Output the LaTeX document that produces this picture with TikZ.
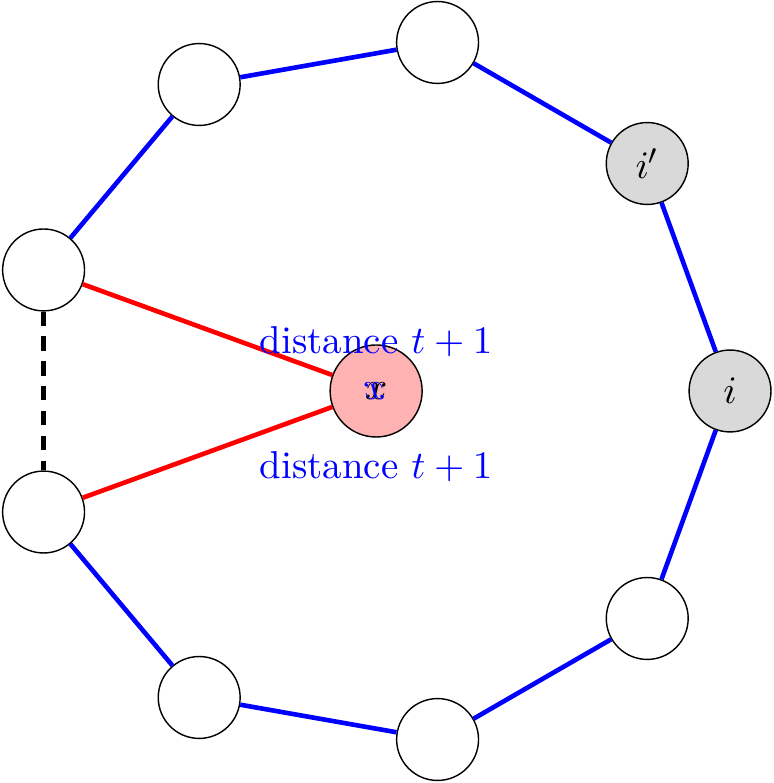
\documentclass[tikz,border=0pt,11pt]{standalone}
\usepackage{amssymb}
\usetikzlibrary{arrows}

\begin{document}
\begin{tikzpicture}[vert/.style={circle, draw, fill=white, minimum size=0.81cm, inner sep=0pt},
    bluedge/.style={blue, line width=1.3pt},
    rededge/.style={red, line width=1.3pt}]
\useasboundingbox (-3.72,-3.877) rectangle (3.926,3.867);
\foreach \i in {0,...,8} {
    \coordinate (p\i) at (40*\i:3.5);
}
\node[vert, fill=gray!30] (v0) at (p0) {$i$};
\node[vert, fill=gray!30] (v1) at (p1) {$i'$};
\foreach \i in {2,...,8}
    \node[vert] (v\i) at (p\i) {};
\node[vert, fill=red!30, minimum size=0.91cm] (x) at (0,0) {$x$};
\node[blue, xscale=-1] (xb) at (-0.02,0) {$x$};
\foreach \a/\b in {0/1, 1/2, 2/3, 3/4, 5/6, 6/7, 7/8, 8/0}
    \draw[bluedge] (v\a) -- (v\b);
\draw[line width=1.3pt, dash pattern=on 4pt off 3pt] (v4) -- (v5);
\draw[rededge] (v4) -- (x);
\draw[rededge] (v5) -- (x);
\node[blue] (lab1) at (0,0.49) {distance $t+1$};
\node[blue] (lab2) at (0,-0.75) {distance $t+1$};
\end{tikzpicture}
\end{document}
